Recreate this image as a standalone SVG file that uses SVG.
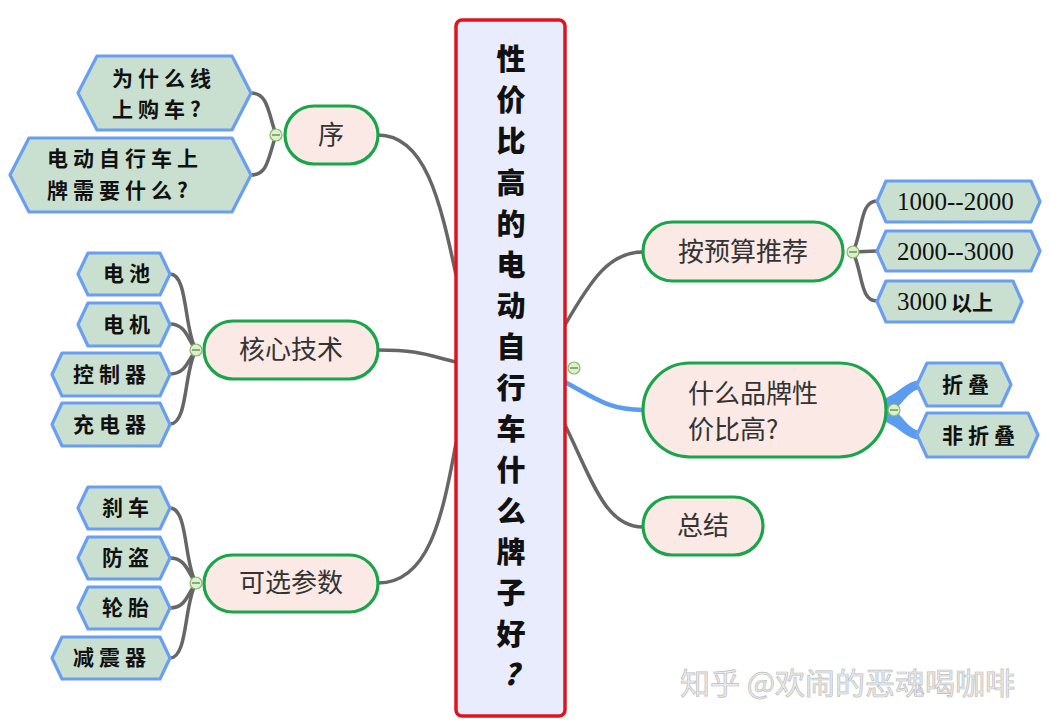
<svg xmlns="http://www.w3.org/2000/svg" width="1050" height="725" viewBox="0 0 1050 725">
<style>
.pill{fill:#fbe9e6;stroke:#1aa54a;stroke-width:3.2}
.hex{fill:#c9e0d0;stroke:#6a9ef0;stroke-width:3.2;stroke-linejoin:round}
.ln{fill:none;stroke:#666;stroke-width:3.5;stroke-linecap:round}
.bl{fill:none;stroke:#5b9bf0;stroke-width:4.5;stroke-linecap:round}
.ht{font-family:"Noto Sans CJK SC",sans-serif;font-weight:700;font-size:21px;fill:#111;letter-spacing:5px}
.hs{font-family:"Liberation Serif","Noto Sans CJK SC",serif;font-size:25px;fill:#111}
.pt{font-family:"Noto Sans CJK SC",sans-serif;font-size:26px;fill:#333}
.ct{font-family:"Noto Sans CJK SC",sans-serif;font-weight:900;font-size:29px;fill:#111;text-anchor:middle}
.cc{fill:#dcf0cc;stroke:#86b86a;stroke-width:1.2}
.cm{stroke:#557a44;stroke-width:1.2}
</style>
<rect width="1050" height="725" fill="#fff"/>
<g id="connectors">
<path class="ln" d="M378,135 C425,135 440,200 456,275"/>
<path class="ln" d="M378,350 C420,350 430,356 456,362"/>
<path class="ln" d="M378,583 C428,583 442,520 456,443"/>
<path class="ln" d="M565,325 C592,278 610,252 643,252"/>
<path class="bl" d="M565,382 C598,400 610,410 643,410"/>
<path class="ln" d="M565,425 C592,480 605,527 643,527"/>
<path class="ln" d="M276,135 C268,112 268,93 251,93"/>
<path class="ln" d="M276,135 C268,158 268,175 251,175"/>
<path class="ln" d="M196,350 C184,330 188,274 170,274"/>
<path class="ln" d="M196,350 C188,340 186,324 170,324"/>
<path class="ln" d="M196,350 C188,360 186,374 170,374"/>
<path class="ln" d="M196,350 C184,370 188,424 170,424"/>
<path class="ln" d="M196,583 C184,563 188,508 170,508"/>
<path class="ln" d="M196,583 C188,573 186,558 170,558"/>
<path class="ln" d="M196,583 C188,593 186,608 170,608"/>
<path class="ln" d="M196,583 C184,603 188,658 170,658"/>
<path class="ln" d="M853,252 C863,230 860,201 877,201"/>
<path class="ln" d="M853,252 L877,251"/>
<path class="ln" d="M853,252 C863,274 860,301 877,301"/>
<path d="M886,398 C900,392 905,382 920,380 L920,389 C908,391 902,405 894,410 C902,415 908,429 920,431 L920,440 C905,438 900,428 886,422 Z" fill="#5b9bf0"/>
</g>
<g id="central">
<rect x="456" y="20" width="109" height="696" rx="6" fill="#e8ecfc" stroke="#e0141e" stroke-width="3.5"/>
<text class="ct" x="511" y="70">性</text>
<text class="ct" x="511" y="111">价</text>
<text class="ct" x="511" y="152">比</text>
<text class="ct" x="511" y="194">高</text>
<text class="ct" x="511" y="235">的</text>
<text class="ct" x="511" y="276">电</text>
<text class="ct" x="511" y="317">动</text>
<text class="ct" x="511" y="358">自</text>
<text class="ct" x="511" y="399">行</text>
<text class="ct" x="511" y="440">车</text>
<text class="ct" x="511" y="481">什</text>
<text class="ct" x="511" y="522">么</text>
<text class="ct" x="511" y="563">牌</text>
<text class="ct" x="511" y="604">子</text>
<text class="ct" x="511" y="645">好</text>
<text class="ct" x="511" y="685" font-style="italic">?</text>
<circle class="cc" cx="574" cy="368" r="6"/><line class="cm" x1="570" y1="368" x2="578" y2="368"/>
</g>
<g id="n-xu">
<rect class="pill" x="285" y="106" width="93" height="58" rx="29"/>
<text class="pt" x="331" y="144" text-anchor="middle">序</text>
<circle class="cc" cx="276" cy="135" r="6"/><line class="cm" x1="272" y1="135" x2="280" y2="135"/>
</g>
<g id="n-xu1">
<polygon class="hex" points="78,93 97,56 232,56 251,93 232,130 97,130"/>
<text class="ht" x="112" y="86">为什么线</text>
<text class="ht" x="112" y="117">上购车?</text>
</g>
<g id="n-xu2">
<polygon class="hex" points="10,175 29,138 232,138 251,175 232,212 29,212"/>
<text class="ht" x="47" y="166">电动自行车上</text>
<text class="ht" x="47" y="198">牌需要什么?</text>
</g>
<g id="n-hx">
<rect class="pill" x="204" y="321" width="174" height="58" rx="29"/>
<text class="pt" x="291" y="359" text-anchor="middle">核心技术</text>
<circle class="cc" cx="196" cy="350" r="6"/><line class="cm" x1="192" y1="350" x2="200" y2="350"/>
</g>
<g id="n-dc"><polygon class="hex" points="78,274 88,253 160,253 170,274 160,295 88,295"/><text class="ht" x="103" y="281">电池</text></g>
<g id="n-dj"><polygon class="hex" points="78,324.5 88,303 160,303 170,324.5 160,346 88,346"/><text class="ht" x="103" y="332">电机</text></g>
<g id="n-kz"><polygon class="hex" points="52,374.5 62,353 160,353 170,374.5 160,396 62,396"/><text class="ht" x="73" y="382">控制器</text></g>
<g id="n-cd"><polygon class="hex" points="52,424.5 62,403 160,403 170,424.5 160,446 62,446"/><text class="ht" x="73" y="432">充电器</text></g>
<g id="n-kx">
<rect class="pill" x="204" y="555" width="174" height="57" rx="28.5"/>
<text class="pt" x="291" y="592" text-anchor="middle">可选参数</text>
<circle class="cc" cx="196" cy="583" r="6"/><line class="cm" x1="192" y1="583" x2="200" y2="583"/>
</g>
<g id="n-sc"><polygon class="hex" points="78,508 88,487 160,487 170,508 160,529 88,529"/><text class="ht" x="102" y="515">刹车</text></g>
<g id="n-fd"><polygon class="hex" points="78,558 88,537 160,537 170,558 160,579 88,579"/><text class="ht" x="102" y="565">防盗</text></g>
<g id="n-lt"><polygon class="hex" points="78,608 88,587 160,587 170,608 160,629 88,629"/><text class="ht" x="102" y="615">轮胎</text></g>
<g id="n-jz"><polygon class="hex" points="52,658 62,637 160,637 170,658 160,679 62,679"/><text class="ht" x="73" y="665">减震器</text></g>
<g id="n-ys">
<rect class="pill" x="643" y="222" width="200" height="59" rx="29.5"/>
<text class="pt" x="743" y="261" text-anchor="middle">按预算推荐</text>
<circle class="cc" cx="853" cy="252" r="6"/><line class="cm" x1="849" y1="252" x2="857" y2="252"/>
</g>
<g id="n-y1"><polygon class="hex" points="877,201.5 886,181 1031,181 1040,201.5 1031,222 886,222"/><text class="hs" x="897" y="210">1000--2000</text></g>
<g id="n-y2"><polygon class="hex" points="877,251 886,231 1031,231 1040,251 1031,271 886,271"/><text class="hs" x="897" y="260">2000--3000</text></g>
<g id="n-y3"><polygon class="hex" points="877,301.5 886,281 1013,281 1022,301.5 1013,322 886,322"/><text class="hs" x="897" y="310">3000<tspan font-family="Noto Sans CJK SC,sans-serif" font-weight="700" font-size="21" dx="4">以上</tspan></text></g>
<g id="n-pp">
<rect class="pill" x="643" y="363" width="243" height="94" rx="47"/>
<text class="pt" x="688" y="403">什么品牌性</text>
<text class="pt" x="688" y="439">价比高?</text>
<circle class="cc" cx="894" cy="410" r="6"/><line class="cm" x1="890" y1="410" x2="898" y2="410"/>
</g>
<g id="n-zd"><polygon class="hex" points="917,384.5 927,363 1001,363 1011,384.5 1001,406 927,406"/><text class="ht" x="942" y="392">折叠</text></g>
<g id="n-fzd"><polygon class="hex" points="917,435 927,413 1028,413 1038,435 1028,457 927,457"/><text class="ht" x="942" y="443">非折叠</text></g>
<g id="n-zj">
<rect class="pill" x="643" y="497" width="120" height="58" rx="29"/>
<text class="pt" x="703" y="535" text-anchor="middle">总结</text>
</g>
<text x="680" y="694" font-family="Noto Sans CJK SC,sans-serif" font-size="30" fill="#ececec" stroke="#bdbdbd" stroke-width="0.7">知乎 @欢闹的恶魂喝咖啡</text>
</svg>
